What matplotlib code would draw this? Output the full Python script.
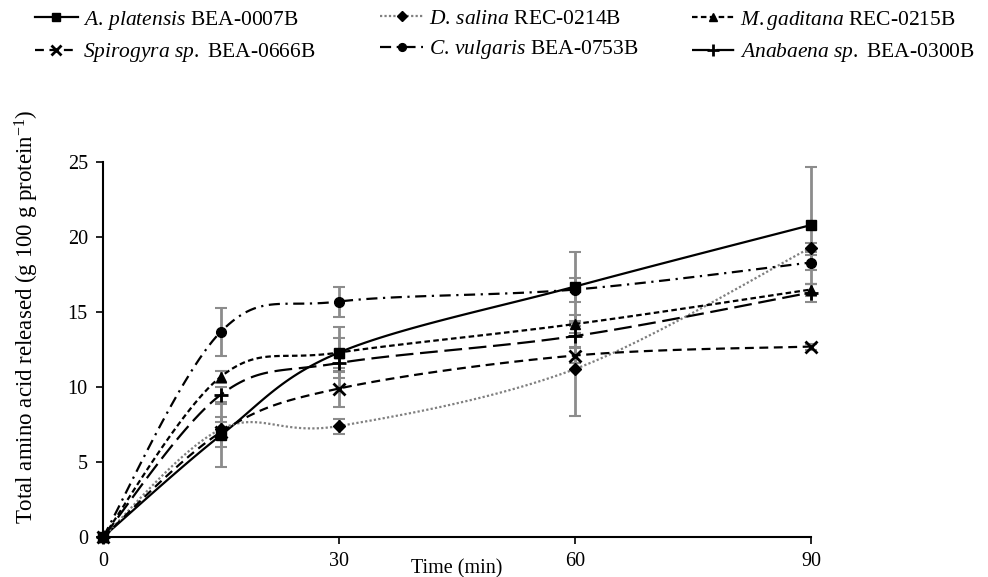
import numpy as np
import matplotlib
matplotlib.use('Agg')
import matplotlib.pyplot as plt
from matplotlib.lines import Line2D

plt.rcParams['font.family'] = 'Liberation Serif'
plt.rcParams['mathtext.fontset'] = 'custom'
plt.rcParams['mathtext.rm'] = 'Liberation Serif'
plt.rcParams['mathtext.it'] = 'Liberation Serif:italic'

# ── DATA ────────────────────────────────────────────────────────────────
time = [0, 15, 30, 60, 90]

labels = [r'$\mathit{A.\,platensis}$ BEA-0007B',
          r'$\mathit{D.\,salina}$ REC-0214B',
          r'$\mathit{M.gaditana}$ REC-0215B',
          r'$\mathit{Spirogyra\ sp.}$ BEA-0666B',
          r'$\mathit{C.\,vulgaris}$ BEA-0753B',
          r'$\mathit{Anabaena\ sp.}$ BEA-0300B']

platensis   = [0, 6.8, 12.3, 16.7, 20.8]
salina      = [0, 7.2, 7.4, 11.2, 19.3]
gaditana    = [0, 10.7, 12.3, 14.2, 16.5]
spirogyra   = [0, 7.0, 9.9, 12.1, 12.7]
vulgaris    = [0, 13.7, 15.7, 16.5, 18.3]
anabaena    = [0, 9.5, 11.6, 13.4, 16.3]

err_platensis = [0, 2.1, 1.7, 2.3, 3.9]
err_salina    = [0, 0.5, 0.5, 3.1, 0.3]
err_gaditana  = [0, 0.4, 1.0, 0.6, 0.4]
err_spirogyra = [0, 1.0, 1.2, 0.5, 0.2]
err_vulgaris  = [0, 1.6, 1.0, 0.8, 0.5]
err_anabaena  = [0, 0.5, 0.6, 0.7, 0.6]

series = [platensis, salina, gaditana, spirogyra, vulgaris, anabaena]
errors = [err_platensis, err_salina, err_gaditana, err_spirogyra, err_vulgaris, err_anabaena]

# ── STYLES ──────────────────────────────────────────────────────────────
styles = [
    dict(ls='-',            color='black',   marker='s', ms=7),
    dict(ls=(0, (1, 1)),    color='#808080', marker='D', ms=6),
    dict(ls=(0, (2.5, 1.5)), color='black',  marker='^', ms=7),
    dict(ls=(0, (4, 2.5)),  color='black',   marker='x', ms=9),
    dict(ls=(0, (5, 2.5, 1, 2.5)), color='black', marker='o', ms=7),
    dict(ls=(0, (8, 3)),    color='black',   marker='+', ms=10),
]


def smooth(x, y, n=30):
    # Excel-like smoothed line (cubic Bezier, Catmull-Rom control points)
    x = np.asarray(x, float)
    y = np.asarray(y, float)
    px = np.concatenate([[x[0]], x, [x[-1]]])
    py = np.concatenate([[y[0]], y, [y[-1]]])
    xs, ys = [], []
    t = np.linspace(0, 1, n)
    for i in range(1, len(px) - 2):
        p0 = np.array([px[i], py[i]])
        p3 = np.array([px[i + 1], py[i + 1]])
        p1 = p0 + (np.array([px[i + 1], py[i + 1]]) - np.array([px[i - 1], py[i - 1]])) / 6
        p2 = p3 - (np.array([px[i + 2], py[i + 2]]) - np.array([px[i], py[i]])) / 6
        b = ((1 - t) ** 3)[:, None] * p0 + (3 * (1 - t) ** 2 * t)[:, None] * p1 \
            + (3 * (1 - t) * t ** 2)[:, None] * p2 + (t ** 3)[:, None] * p3
        xs.extend(b[:, 0])
        ys.extend(b[:, 1])
    return xs, ys


fig = plt.figure(figsize=(9.88, 5.77), dpi=100)
ax = fig.add_axes([0.1043, 0.0693, 0.7166, 0.6499])

for y, e, st in zip(series, errors, styles):
    ax.errorbar(time, y, yerr=e, fmt='none', ecolor='#8c8c8c', elinewidth=2,
                capsize=4, capthick=1.5, zorder=2, clip_on=False)

handles = []
for y, st, lab in zip(series, styles, labels):
    sx, sy = smooth(time, y)
    ax.plot(sx, sy, ls=st['ls'], color=st['color'], lw=1.6, zorder=3, clip_on=False)
    mew = 2 if st['marker'] in ('x', '+') else 1
    ax.plot(time, y, ls='none', marker=st['marker'], ms=st['ms'], color='black',
            mew=mew, zorder=4, clip_on=False)
    handles.append(Line2D([], [], ls=st['ls'], color=st['color'], lw=1.6,
                          marker=st['marker'], ms=st['ms'] * 0.8, mfc='black',
                          mec='black', mew=mew))

ax.set_xlim(0, 90)
ax.set_ylim(0, 25)
ax.set_xticks([0, 30, 60, 90])
ax.set_yticks([0, 5, 10, 15, 20, 25])
ax.tick_params(labelsize=14.5, direction='out', length=5, width=1.2, pad=6)
for s in ['top', 'right']:
    ax.spines[s].set_visible(False)
for s in ['left', 'bottom']:
    ax.spines[s].set_linewidth(1.5)

ax.set_xlabel('Time (min)', fontsize=14.5, labelpad=-9)
ax.set_ylabel('Total amino acid released (g 100 g protein$^{-1}$)', fontsize=16.5)
ax.yaxis.set_label_coords(-0.088, 0.587)

# legend: one small legend per column so the columns sit where the reference has them
col_x = [0.035, 0.385, 0.70]
for j in range(3):
    fig.legend([handles[j], handles[j + 3]], [labels[j], labels[j + 3]],
               loc='upper left', bbox_to_anchor=(col_x[j], 0.985), frameon=False,
               fontsize=15.5, handlelength=2.0, handletextpad=0.25,
               labelspacing=0.45, borderpad=0, borderaxespad=0)

fig.savefig('out.png', dpi=100)
